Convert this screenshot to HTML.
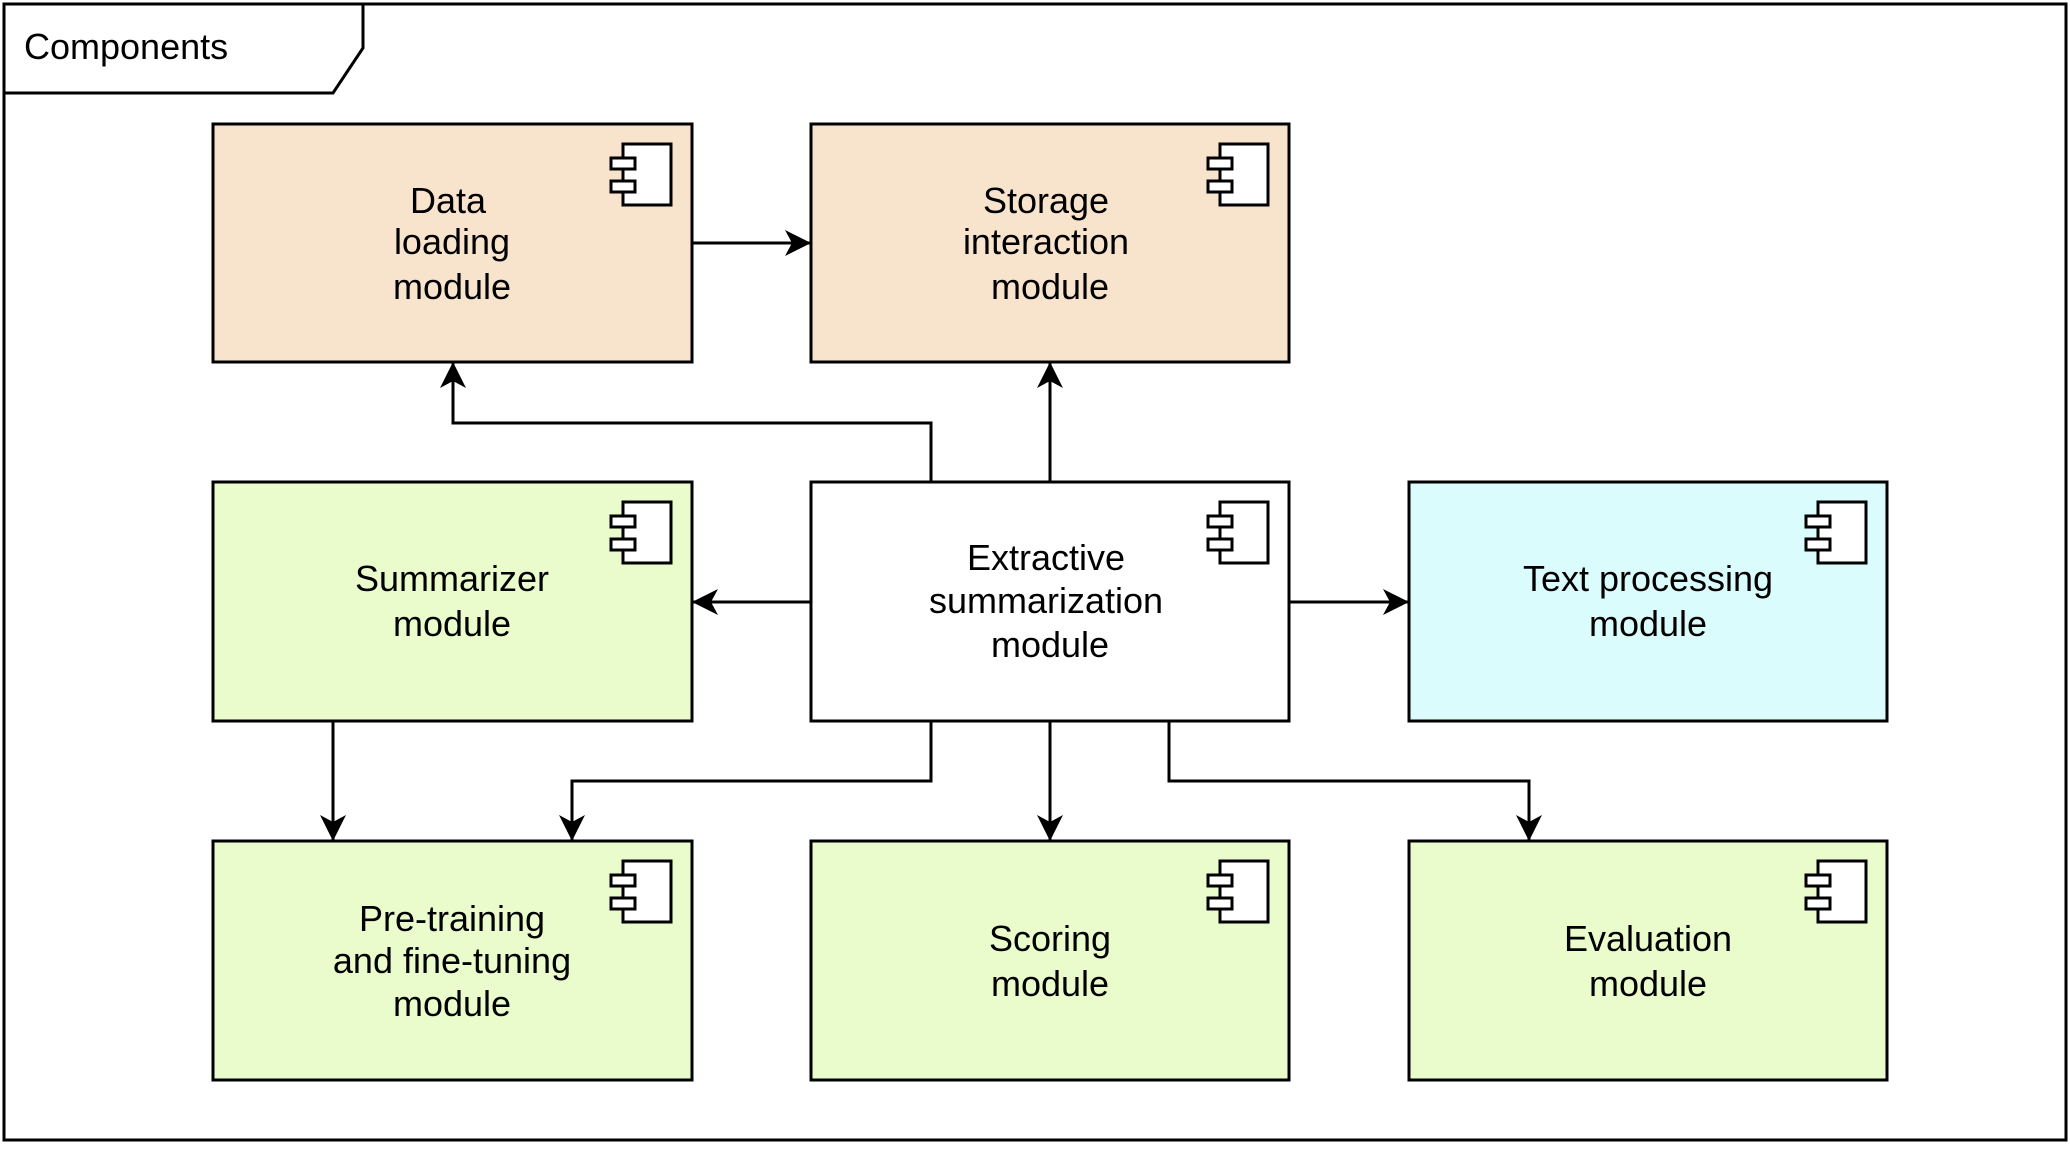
<!DOCTYPE html>
<html><head><meta charset="utf-8"><style>
html,body{margin:0;padding:0;background:#fff;}
svg{display:block;}
text{font-family:"Liberation Sans",Arial,sans-serif;font-size:36px;fill:#000;}
</style></head><body>
<svg width="2070" height="1150" viewBox="0 0 2070 1150" xmlns="http://www.w3.org/2000/svg">
<defs>
<marker id="a" markerUnits="userSpaceOnUse" markerWidth="30" markerHeight="30" refX="26" refY="13" orient="auto">
<path d="M0,0 L26,13 L0,26 L7,13 Z" fill="#000"/>
</marker>
<g id="ic">
<rect x="-48" y="0" width="48" height="61" fill="#fff" stroke="#000" stroke-width="3"/>
<rect x="-60" y="14" width="24" height="11" fill="#fff" stroke="#000" stroke-width="3"/>
<rect x="-60" y="37" width="24" height="11" fill="#fff" stroke="#000" stroke-width="3"/>
</g>
</defs>
<rect x="4" y="4" width="2062" height="1136" fill="#fff" stroke="#000" stroke-width="3"/>
<path d="M4,4 L363,4 L363,48 L333,93 L4,93 Z" fill="#fff" stroke="#000" stroke-width="3"/>
<text x="24" y="59" style="font-size:36px">Components</text>

<g stroke="#000" stroke-width="3">
<rect x="213" y="124" width="479" height="238" fill="#f8e4cc"/>
<rect x="811" y="124" width="478" height="238" fill="#f8e4cc"/>
<rect x="213" y="482" width="479" height="239" fill="#eafccb"/>
<rect x="811" y="482" width="478" height="239" fill="#fff"/>
<rect x="1409" y="482" width="478" height="239" fill="#dafcfc"/>
<rect x="213" y="841" width="479" height="239" fill="#eafccb"/>
<rect x="811" y="841" width="478" height="239" fill="#eafccb"/>
<rect x="1409" y="841" width="478" height="239" fill="#eafccb"/>
</g>
<use href="#ic" x="671" y="144"/>
<use href="#ic" x="1268" y="144"/>
<use href="#ic" x="671" y="502"/>
<use href="#ic" x="1268" y="502"/>
<use href="#ic" x="1866" y="502"/>
<use href="#ic" x="671" y="861"/>
<use href="#ic" x="1268" y="861"/>
<use href="#ic" x="1866" y="861"/>

<g fill="none" stroke="#000" stroke-width="3" marker-end="url(#a)">
<path d="M692,243 L811,243"/>
<path d="M931,482 L931,423 L453,423 L453,362"/>
<path d="M1050,482 L1050,362"/>
<path d="M811,602 L692,602"/>
<path d="M1289,602 L1409,602"/>
<path d="M333,721 L333,841"/>
<path d="M931,721 L931,781 L572,781 L572,841"/>
<path d="M1050,721 L1050,841"/>
<path d="M1169,721 L1169,781 L1529,781 L1529,841"/>
</g>

<g text-anchor="middle">
<text x="448" y="213">Data</text>
<text x="452" y="254">loading</text>
<text x="452" y="299">module</text>
<text x="1046" y="213">Storage</text>
<text x="1046" y="254">interaction</text>
<text x="1050" y="299">module</text>
<text x="452" y="591">Summarizer</text>
<text x="452" y="636">module</text>
<text x="1046" y="570">Extractive</text>
<text x="1046" y="613">summarization</text>
<text x="1050" y="657">module</text>
<text x="1648" y="591">Text processing</text>
<text x="1648" y="636">module</text>
<text x="452" y="931">Pre-training</text>
<text x="452" y="973">and fine-tuning</text>
<text x="452" y="1016">module</text>
<text x="1050" y="951">Scoring</text>
<text x="1050" y="996">module</text>
<text x="1648" y="951">Evaluation</text>
<text x="1648" y="996">module</text>
</g>
</svg>
</body></html>
